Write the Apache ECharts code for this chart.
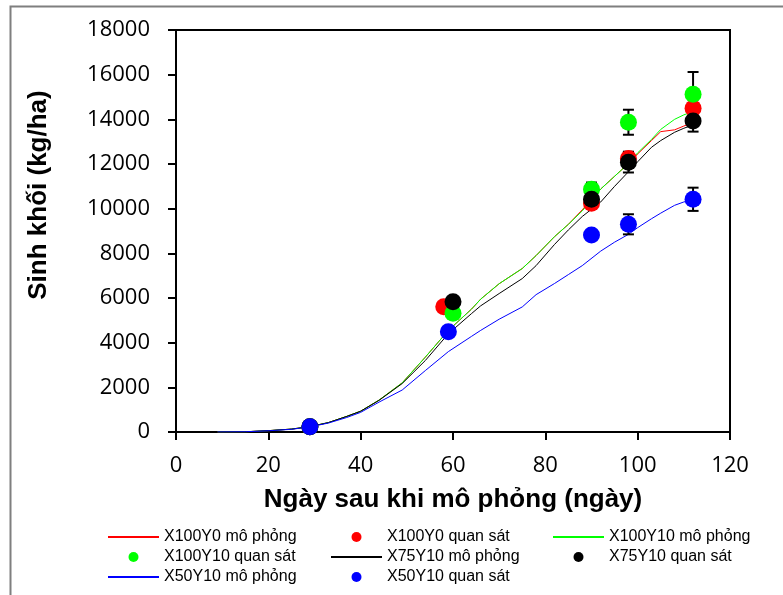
<!DOCTYPE html>
<html>
<head>
<meta charset="utf-8">
<script src="https://cdn.jsdelivr.net/npm/echarts@6/dist/echarts.min.js"></script>
<style>html,body{margin:0;padding:0;background:#fff}#c{width:783px;height:595px}</style>
</head>
<body>
<div id="c"></div>
<script>
// ---- data ----
var simDays   = [9,15,20,25,29,33,37,40,44,49,54,59,64,66,70,75,78,82,85,88,92,95,98,100,103,105,108,110,112,113];
var simX100Y0 = [0,10,60,130,240,420,700,930,1430,2200,3350,4550,5500,5950,6640,7320,7900,8750,9300,9950,10880,11450,12020,12450,13050,13450,13530,13700,13850,13900];
var simX100Y10= [0,10,60,130,240,420,700,930,1430,2200,3350,4550,5500,5950,6640,7320,7900,8750,9300,9900,10880,11450,12020,12500,13100,13550,14000,14200,14350,14420];
var simX75Y10 = [0,10,60,130,240,420,700,930,1420,2170,3200,4400,5300,5650,6200,6870,7450,8400,9050,9650,10300,11000,11650,12100,12750,13050,13420,13600,13750,13800];
var simX50Y10 = [0,10,55,120,230,400,650,880,1340,1880,2750,3600,4280,4550,5050,5600,6150,6650,7050,7450,8100,8500,8850,9150,9550,9800,10150,10300,10400,10420];

var obsDaysX100Y0  = [29,58,90,98,112];
var obsX100Y0      = [230,5610,10240,12250,14500];
var errX100Y0      = [0,0,200,300,400];
var obsDaysX100Y10 = [29,60,90,98,112];
var obsX100Y10     = [230,5320,10870,13870,15120];
var errX100Y10     = [0,0,300,560,1000];
var obsDaysX75Y10  = [29,60,90,98,112];
var obsX75Y10      = [230,5830,10420,12080,13930];
var errX75Y10      = [0,0,200,460,480];
var obsDaysX50Y10  = [29,59,90,98,112];
var obsX50Y10      = [237,4490,8820,9300,10420];
var errX50Y10      = [0,0,0,450,520];

var xTicks = [0,20,40,60,80,100,120];
var yTicks = [0,2000,4000,6000,8000,10000,12000,14000,16000,18000];

var names = {
  s0:'X100Y0 mô phỏng', o0:'X100Y0 quan sát',
  s1:'X100Y10 mô phỏng', o1:'X100Y10 quan sát',
  s2:'X75Y10 mô phỏng', o2:'X75Y10 quan sát',
  s3:'X50Y10 mô phỏng', o3:'X50Y10 quan sát'
};

function pairs(xs, ys){ return xs.map(function(x,i){return [x, ys[i]];}); }
function errData(xs, ys, es){
  var out=[];
  xs.forEach(function(x,i){ if(es[i]>0) out.push([x, ys[i]-es[i], ys[i]+es[i]]); });
  return out;
}
function simSeries(name, vals, color){
  return {type:'line', name:name, data:pairs(simDays, vals), showSymbol:false, symbol:'none',
    lineStyle:{color:color, width:1}, itemStyle:{color:color}, z:2, silent:true, animation:false};
}
function obsSeries(name, days, vals, color){
  return {type:'scatter', name:name, data:pairs(days, vals), symbol:'circle', symbolSize:17,
    itemStyle:{color:color, opacity:1}, z:4, animation:false};
}
function errSeries(days, vals, errs){
  return {type:'custom', data:errData(days, vals, errs), z:3, silent:true, animation:false,
    renderItem:function(params, api){
      var x=api.value(0), lo=api.value(1), hi=api.value(2);
      var pLo=api.coord([x,lo]), pHi=api.coord([x,hi]);
      var w=5.5, st={stroke:'#000', lineWidth:2};
      return {type:'group', children:[
        {type:'line', shape:{x1:pLo[0],y1:pLo[1],x2:pHi[0],y2:pHi[1]}, style:st},
        {type:'line', shape:{x1:pLo[0]-w,y1:pLo[1],x2:pLo[0]+w,y2:pLo[1]}, style:st},
        {type:'line', shape:{x1:pHi[0]-w,y1:pHi[1],x2:pHi[0]+w,y2:pHi[1]}, style:st}
      ]};
    }};
}
function lineItem(n){ return {name:n, itemStyle:{opacity:0}}; }

var legendBase = {orient:'vertical', padding:0, itemGap:0, itemWidth:51, itemHeight:10,
  textStyle:{fontFamily:'Liberation Sans, Arial, sans-serif', fontSize:16, color:'#000', lineHeight:20},
  selectedMode:false, top:527};

var chart = echarts.init(document.getElementById('c'), null, {renderer:'canvas'});
chart.setOption({
  animation:false,
  backgroundColor:'#fff',
  grid:{left:176, top:30, right:53, bottom:163, show:true, borderColor:'#000', borderWidth:2, backgroundColor:'transparent'},
  xAxis:{type:'value', min:0, max:120, interval:20,
    axisLine:{show:true, lineStyle:{color:'#000', width:2}},
    axisTick:{show:true, inside:false, length:8, lineStyle:{color:'#000', width:2}},
    axisLabel:{margin:23, color:'#000', fontSize:22, fontFamily:'Open Sans, sans-serif',
      formatter:function(v){ return xTicks.indexOf(v)>=0 ? String(v) : ''; }},
    splitLine:{show:false}},
  yAxis:{type:'value', min:0, max:18000, interval:2000,
    axisLine:{show:true, lineStyle:{color:'#000', width:2}},
    axisTick:{show:true, inside:false, length:8, lineStyle:{color:'#000', width:2}},
    axisLabel:{margin:26, color:'#000', fontSize:22, fontFamily:'Open Sans, sans-serif',
      formatter:function(v){ return yTicks.indexOf(v)>=0 ? String(v) : ''; }},
    splitLine:{show:false}},
  legend:[
    Object.assign({}, legendBase, {left:107, data:[lineItem(names.s0), names.o1, lineItem(names.s3)]}),
    Object.assign({}, legendBase, {left:330, data:[names.o0, lineItem(names.s2), names.o3]}),
    Object.assign({}, legendBase, {left:552, data:[lineItem(names.s1), names.o2]})
  ],
  graphic:[
    {type:'rect', left:8, top:4, shape:{x:0,y:0,width:820,height:640}, style:{fill:'none', stroke:'#7f7f7f', lineWidth:2}, silent:true, z:-1},
    {type:'text', x:39, y:195, rotation:Math.PI/2, style:{text:'Sinh khối (kg/ha)', fontFamily:'Liberation Sans, Arial, sans-serif', fontWeight:'bold', fontSize:26, fill:'#000', textAlign:'center', textVerticalAlign:'middle'}},
    {type:'text', x:453, y:500, style:{text:'Ngày sau khi mô phỏng (ngày)', fontFamily:'Liberation Sans, Arial, sans-serif', fontWeight:'bold', fontSize:26, fill:'#000', textAlign:'center', textVerticalAlign:'middle'}}
  ],
  series:[
    simSeries(names.s0, simX100Y0, '#ff0000'),
    errSeries(obsDaysX100Y0, obsX100Y0, errX100Y0),
    obsSeries(names.o0, obsDaysX100Y0, obsX100Y0, '#ff0000'),
    simSeries(names.s1, simX100Y10, '#00ff00'),
    errSeries(obsDaysX100Y10, obsX100Y10, errX100Y10),
    obsSeries(names.o1, obsDaysX100Y10, obsX100Y10, '#00ff00'),
    simSeries(names.s2, simX75Y10, '#000000'),
    errSeries(obsDaysX75Y10, obsX75Y10, errX75Y10),
    obsSeries(names.o2, obsDaysX75Y10, obsX75Y10, '#000000'),
    simSeries(names.s3, simX50Y10, '#0000ff'),
    errSeries(obsDaysX50Y10, obsX50Y10, errX50Y10),
    obsSeries(names.o3, obsDaysX50Y10, obsX50Y10, '#0000ff')
  ]
});
</script>
</body>
</html>
